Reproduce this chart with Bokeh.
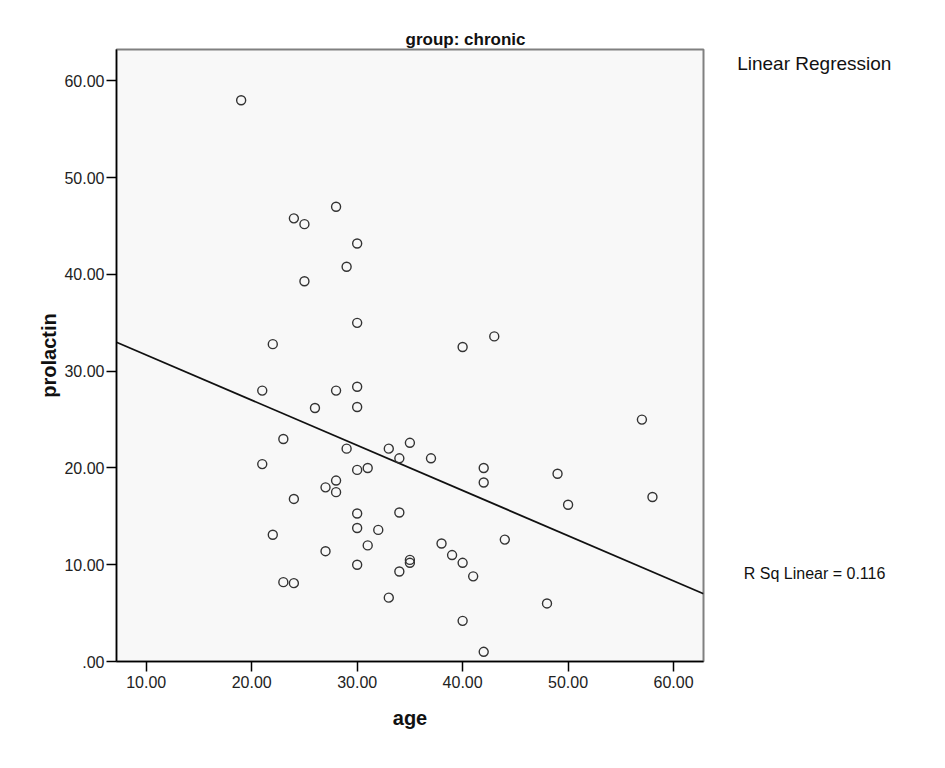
from bokeh.plotting import figure
from bokeh.models import Range1d, FixedTicker
from bokeh.layouts import row
from bokeh.core.properties import value
from bokeh.embed import file_html
from bokeh.resources import INLINE

# ---- data ----
age = [19, 28, 24, 25, 30, 29, 25, 30, 43, 40, 22, 21, 28, 30, 30, 26, 57, 23, 29, 35,
       33, 34, 37, 21, 31, 30, 42, 49, 42, 28, 27, 28, 58, 24, 50, 30, 34, 32, 30, 22,
       44, 38, 31, 27, 39, 35, 35, 40, 30, 41, 34, 23, 24, 48, 33, 40, 42]
prolactin = [58.0, 47.0, 45.8, 45.2, 43.2, 40.8, 39.3, 35.0, 33.6, 32.5, 32.8, 28.0, 28.0, 28.4, 26.3, 26.2, 25.0, 23.0, 22.0, 22.6,
             22.0, 21.0, 21.0, 20.4, 20.0, 19.8, 20.0, 19.4, 18.5, 18.7, 18.0, 17.5, 17.0, 16.8, 16.2, 15.3, 15.4, 13.6, 13.8, 13.1,
             12.6, 12.2, 12.0, 11.4, 11.0, 10.5, 10.2, 10.2, 10.0, 8.8, 9.3, 8.2, 8.1, 6.0, 6.6, 4.2, 1.0]
fit_intercept = 36.35
fit_slope = -0.467
r_sq_text = "R Sq Linear = 0.116"
title_text = "group: chronic"
legend_text = "Linear Regression"
x_ticks = [10, 20, 30, 40, 50, 60]
x_tick_labels = ["10.00", "20.00", "30.00", "40.00", "50.00", "60.00"]
y_ticks = [0, 10, 20, 30, 40, 50, 60]
y_tick_labels = [".00", "10.00", "20.00", "30.00", "40.00", "50.00", "60.00"]

X0, X1 = 7.18, 62.84
Y0, Y1 = 0.0, 63.25
FONT = "Liberation Sans"

p = figure(width=705, height=768, output_backend="svg", toolbar_location=None,
           x_range=Range1d(X0, X1), y_range=Range1d(Y0, Y1),
           min_border_left=116, min_border_right=2, min_border_top=49, min_border_bottom=107)
p.background_fill_color = "#f8f8f8"
p.border_fill_color = "white"
p.outline_line_color = "#808080"
p.outline_line_width = 2
p.xgrid.visible = False
p.ygrid.visible = False

p.title.text = title_text
p.title.align = "left"
p.title.offset = 289
p.title.standoff = 1
p.title.text_font = FONT
p.title.text_font_size = "17px"
p.title.text_font_style = "bold"
p.title.text_color = "#111111"

for ax, ticks, labels in ((p.xaxis[0], x_ticks, x_tick_labels), (p.yaxis[0], y_ticks, y_tick_labels)):
    ax.ticker = FixedTicker(ticks=ticks)
    ax.major_label_overrides = {t: l for t, l in zip(ticks, labels)}
    ax.minor_tick_line_color = None
    ax.major_tick_in = 0
    ax.major_tick_out = 10
    ax.major_tick_line_color = "black"
    ax.major_tick_line_width = 1.5
    ax.axis_line_color = "black"
    ax.axis_line_width = 1.5
    ax.major_label_text_font = FONT
    ax.major_label_text_font_size = "16px"
    ax.major_label_text_color = "#222222"
    ax.axis_label_text_font = FONT
    ax.axis_label_text_font_size = "20px"
    ax.axis_label_text_font_style = "bold"
    ax.axis_label_text_color = "#111111"

p.xaxis.axis_label = "age"
p.yaxis.axis_label = "prolactin"
p.xaxis.major_label_standoff = 4
p.yaxis.major_label_standoff = 2
p.xaxis.axis_label_standoff = 16
p.yaxis.axis_label_standoff = 1

# regression line
lx = [X0, X1]
ly = [fit_intercept + fit_slope * v for v in lx]
p.line(lx, ly, line_color="#111111", line_width=1.8)

# points
p.scatter(age, prolactin, marker="circle", size=9, fill_alpha=0,
          line_color="#333333", line_width=1.4)

# right-hand text panel (legend text and R-squared note); its frame is aligned
# with the main frame (canvas y 49..661), so ranges use canvas pixel positions
side = figure(width=240, height=768, output_backend="svg", toolbar_location=None,
              x_range=Range1d(705, 945), y_range=Range1d(661, 49),
              min_border=0, outline_line_color=None)
side.axis.visible = False
side.grid.visible = False
side.background_fill_color = "white"
side.border_fill_color = "white"
side.text(x=[736.7], y=[63.3], text=[legend_text], text_align="left", text_baseline="middle",
          text_font=value(FONT), text_font_size="19px", text_color="#111111")
side.text(x=[743.3], y=[573.3], text=[r_sq_text], text_align="left", text_baseline="middle",
          text_font=value(FONT), text_font_size="16px", text_color="#111111")

layout = row(p, side)
open("out.html", "w").write(file_html(layout, INLINE))
